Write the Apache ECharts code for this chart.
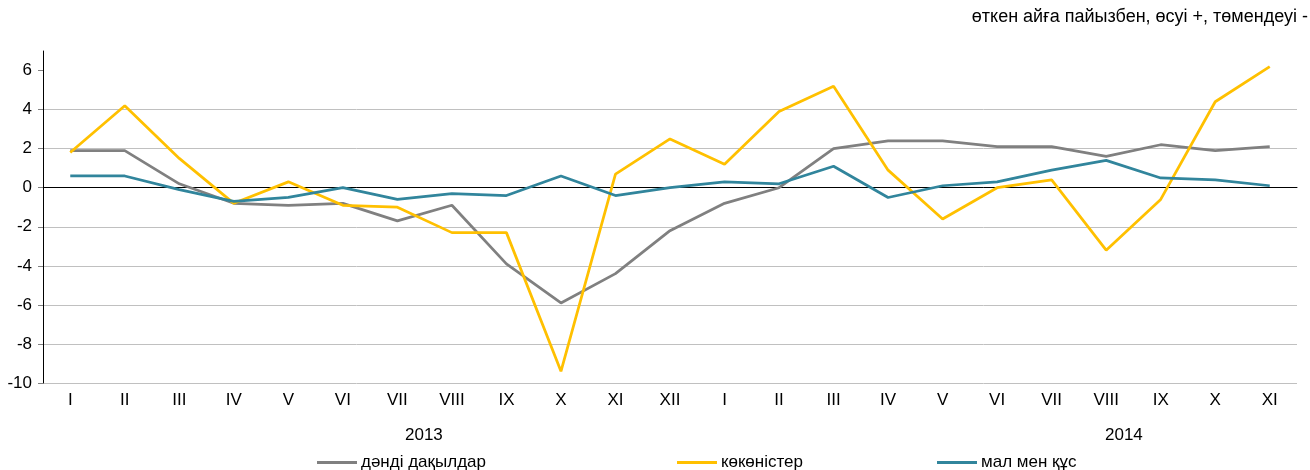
<!DOCTYPE html>
<html lang="kk">
  <head>
    <meta charset="UTF-8" />
    <title>Chart</title>
    <script src="https://cdn.jsdelivr.net/npm/echarts@6/dist/echarts.min.js"></script>
  </head>
  <body style="margin: 0; background: #fff;">
    <div id="chart" style="width: 1310px; height: 470px;"></div>
    <script>
      // months, two years
      const months = ['I', 'II', 'III', 'IV', 'V', 'VI', 'VII', 'VIII', 'IX', 'X', 'XI', 'XII',
        'I', 'II', 'III', 'IV', 'V', 'VI', 'VII', 'VIII', 'IX', 'X', 'XI']
      const years = ['2013', '2014']
      const yTicks = [-10, -8, -6, -4, -2, 0, 2, 4, 6]

      const grain = [1.9, 1.9, 0.2, -0.8, -0.9, -0.8, -1.7, -0.9, -3.9, -5.9, -4.4, -2.2,
        -0.8, 0.0, 2.0, 2.4, 2.4, 2.1, 2.1, 1.6, 2.2, 1.9, 2.1]
      const vegetables = [1.8, 4.2, 1.5, -0.8, 0.3, -0.9, -1.0, -2.3, -2.3, -9.4, 0.7, 2.5,
        1.2, 3.9, 5.2, 0.9, -1.6, 0.0, 0.4, -3.2, -0.6, 4.4, 6.2]
      const meat = [0.6, 0.6, -0.1, -0.7, -0.5, 0.0, -0.6, -0.3, -0.4, 0.6, -0.4, 0.0,
        0.3, 0.2, 1.1, -0.5, 0.1, 0.3, 0.9, 1.4, 0.5, 0.4, 0.1]

      const names = ['дәнді дақылдар', 'көкөністер', 'мал мен құс']
      const colors = ['#808080', '#FFC000', '#31859C']
      const font = 'Liberation Sans, Arial, sans-serif'
      const fs = 17

      const chart = echarts.init(document.getElementById('chart'))

      function legendAt(i, left) {
        return {
          data: [names[i]],
          left: left,
          top: 449,
          icon: 'rect',
          itemWidth: 40,
          itemHeight: 3,
          itemGap: 0,
          textStyle: { fontFamily: font, fontSize: fs, color: '#000', padding: [0, 0, 0, -1] }
        }
      }

      const option = {
        animation: false,
        color: colors,
        textStyle: { fontFamily: font },
        grid: { left: 43, right: 13, top: 51, bottom: 87 },
        legend: [legendAt(0, 312), legendAt(1, 672), legendAt(2, 932)],
        graphic: [
          {
            type: 'text', right: 2, top: 8,
            style: { text: 'өткен айға пайызбен, өсуі +, төмендеуі -', font: '18px ' + font, fill: '#000' }
          },
          {
            type: 'text', left: 405, top: 427,
            style: { text: years[0], font: fs + 'px ' + font, fill: '#000', align: 'center' }
          },
          {
            type: 'text', left: 1105, top: 427,
            style: { text: years[1], font: fs + 'px ' + font, fill: '#000', align: 'center' }
          }
        ],
        xAxis: [
          {
            type: 'category',
            data: months,
            position: 'bottom',
            axisLine: { show: false, onZero: false },
            axisTick: { show: false },
            axisLabel: { color: '#000', fontSize: fs, margin: 9, interval: 0 }
          },
          {
            // zero line with the tick marks
            type: 'category',
            data: months,
            position: 'top',
            axisLine: { onZero: true, lineStyle: { color: '#000', width: 1 } },
            axisTick: { inside: true, length: 5, lineStyle: { color: '#808080' } },
            axisLabel: { show: false }
          }
        ],
        yAxis: {
          type: 'value',
          min: -10,
          max: 7,
          interval: 2,
          axisLine: { show: true, lineStyle: { color: '#000', width: 1 } },
          axisTick: { show: true, length: 5, lineStyle: { color: '#808080' }, customValues: yTicks },
          axisLabel: { color: '#000', fontSize: fs, margin: 11, customValues: yTicks },
          splitLine: { showMaxLine: false, lineStyle: { color: '#c0c0c0', width: 1 } }
        },
        series: [grain, vegetables, meat].map((d, i) => ({
          name: names[i],
          type: 'line',
          data: d,
          symbol: 'none',
          lineStyle: { width: 2.75, color: colors[i] }
        }))
      }
      chart.setOption(option)
    </script>
  </body>
</html>
